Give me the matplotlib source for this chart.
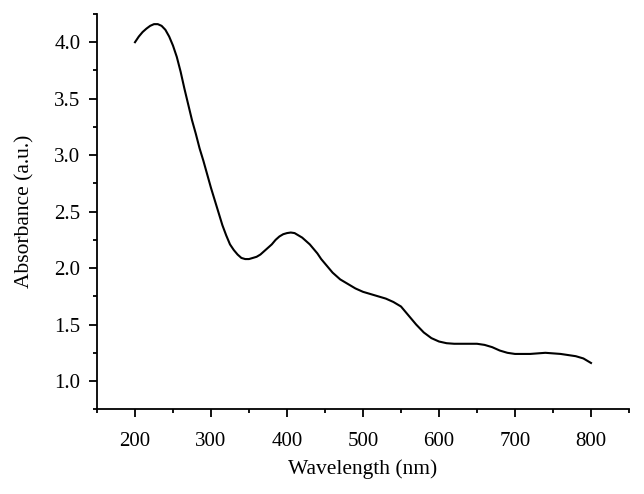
import numpy as np
import matplotlib
matplotlib.use("Agg")
import matplotlib.pyplot as plt
from matplotlib.ticker import MultipleLocator, FormatStrFormatter

# absorbance spectrum (5 nm steps up to 450, then 10 nm)
wavelength = list(range(200, 450, 5)) + list(range(450, 801, 10))
absorbance = [4.00, 4.05, 4.09, 4.12, 4.145, 4.16, 4.16, 4.145, 4.11, 4.05,
              3.97, 3.87, 3.74, 3.59, 3.45, 3.31, 3.19, 3.06, 2.95, 2.83,
              2.71, 2.60, 2.49, 2.38, 2.29, 2.21, 2.16, 2.12, 2.09, 2.08,
              2.08, 2.09, 2.10, 2.12, 2.15, 2.18, 2.21, 2.25, 2.28, 2.30,
              2.31, 2.315, 2.31, 2.29, 2.27, 2.24, 2.21, 2.17, 2.13, 2.08,
              2.04, 1.96, 1.90, 1.86, 1.82, 1.79, 1.77, 1.75, 1.73, 1.70,
              1.66, 1.58, 1.50, 1.43, 1.38, 1.35, 1.335, 1.33, 1.33, 1.33,
              1.33, 1.32, 1.30, 1.27, 1.25, 1.24, 1.24, 1.24, 1.245, 1.25,
              1.245, 1.24, 1.23, 1.22, 1.20, 1.16]

plt.rcParams['font.family'] = ['Liberation Serif', 'DejaVu Serif']

fig = plt.figure(figsize=(6.44, 4.94), dpi=100)
ax = fig.add_axes([0.1506, 0.1715, 0.8261, 0.8002])

ax.plot(wavelength, absorbance, color='black', lw=1.5)

ax.set_xlim(150, 850)
ax.set_ylim(0.75, 4.25)
ax.xaxis.set_major_locator(MultipleLocator(100))
ax.xaxis.set_minor_locator(MultipleLocator(50))
ax.yaxis.set_major_locator(MultipleLocator(0.5))
ax.yaxis.set_minor_locator(MultipleLocator(0.25))
ax.yaxis.set_major_formatter(FormatStrFormatter('%.1f'))

for s in ['top', 'right']:
    ax.spines[s].set_visible(False)
for s in ['left', 'bottom']:
    ax.spines[s].set_linewidth(1.3)

ax.tick_params(which='major', direction='out', length=6, width=1.3, labelsize=15)
ax.tick_params(which='minor', direction='out', length=3, width=1.3)
ax.tick_params(axis='x', which='major', pad=10)
ax.tick_params(axis='y', which='major', pad=6)

ax.set_xlabel('Wavelength (nm)', fontsize=15.5, labelpad=6)
ax.set_ylabel('Absorbance (a.u.)', fontsize=15.5, labelpad=14)

fig.savefig('out.png', dpi=100)
